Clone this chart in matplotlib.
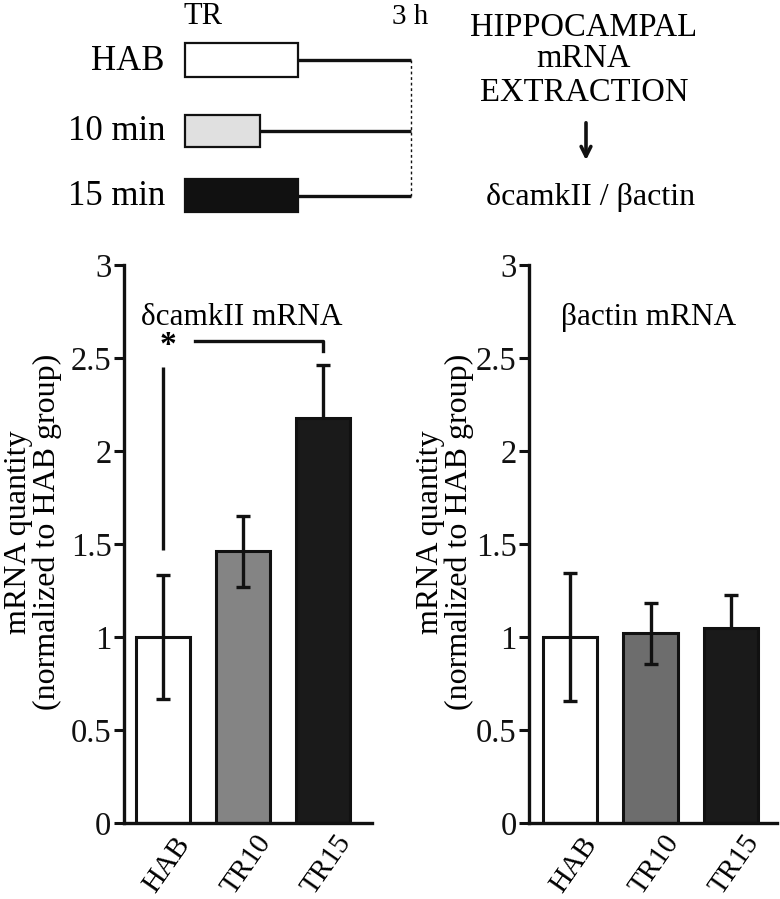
import numpy as np
import matplotlib
matplotlib.use('Agg')
import matplotlib.pyplot as plt
from matplotlib.patches import Rectangle
import matplotlib.transforms as mtransforms

plt.rcParams['font.family'] = ['Liberation Serif', 'DejaVu Serif']

# ---------------- data ----------------
groups = ['HAB', 'TR10', 'TR15']
camk_mean = [1.00, 1.46, 2.18]
camk_err = [0.335, 0.19, 0.28]
actin_mean = [1.00, 1.02, 1.05]
actin_err = [0.345, 0.165, 0.175]
yticks = [0, 0.5, 1, 1.5, 2, 2.5, 3]
ytick_labels = ['0', '0.5', '1', '1.5', '2', '2.5', '3']
left_colors = ['#ffffff', '#848484', '#1a1a1a']
right_colors = ['#ffffff', '#6d6d6d', '#1a1a1a']
ylabel = 'mRNA quantity\n(normalized to HAB group)'
titles = ['\u03b4camkII mRNA', '\u03b2actin mRNA']

protocol_labels = ['HAB', '10 min', '15 min']
protocol_minutes = [15, 10, 15]
protocol_colors = ['#ffffff', '#e0e0e0', '#111111']
extraction_lines = ['HIPPOCAMPAL', 'mRNA', 'EXTRACTION']
ratio_text = '\u03b4camkII / \u03b2actin'

# ---------------- figure ----------------
W, H = 780, 899
fig = plt.figure(figsize=(W / 100, H / 100), dpi=100)
INK = '#111111'


def px_axes(l, r, top, bottom, **kw):
    return fig.add_axes([l / W, 1 - bottom / H, (r - l) / W, (bottom - top) / H], **kw)


# overlay for protocol diagram
ax0 = px_axes(0, W, 0, H)
ax0.set_xlim(0, W)
ax0.set_ylim(H, 0)
ax0.axis('off')

row_y = [60, 131, 195.5]
row_h = [34, 32, 33]
box_x0 = 185
px_per_min = 113 / 15
end_x = 411
for lab, mins, col, y, h in zip(protocol_labels, protocol_minutes, protocol_colors, row_y, row_h):
    w = mins * px_per_min
    ax0.add_patch(Rectangle((box_x0, y - h / 2), w, h, facecolor=col, edgecolor=INK, lw=1.6))
    ax0.plot([box_x0 + w, end_x], [y, y], color=INK, lw=2.4, solid_capstyle='butt')
    ax0.text(165, y + 1, lab, ha='right', va='center', fontsize=25)
ax0.plot([end_x, end_x], [row_y[0], row_y[-1]], color=INK, lw=1.0, ls=(0, (2, 2)))
ax0.text(203, 17, 'TR', ha='center', va='center', fontsize=22)
ax0.text(410, 17, '3 h', ha='center', va='center', fontsize=21)
for txt, y in zip(extraction_lines, [28, 59, 93]):
    ax0.text(584, y, txt, ha='center', va='center', fontsize=23.5)
ax0.annotate('', xy=(586, 163), xytext=(586, 120),
             arrowprops=dict(arrowstyle='->,head_length=0.7,head_width=0.35', lw=2.6, color=INK))
ax0.text(591, 197, ratio_text, ha='center', va='center', fontsize=23)


def bar_panel(ax, means, errs, colors, title, title_x, xlim):
    x = np.arange(len(groups))
    ax.bar(x, means, width=0.675, color=colors, edgecolor=INK, linewidth=2.2, zorder=2)
    for xi, m, e, c in zip(x, means, errs, colors):
        # error bars sit behind dark bars (their lower half is hidden there)
        z = 1 if c == '#1a1a1a' else 3
        ax.errorbar([xi], [m], yerr=[e], fmt='none', ecolor=INK, elinewidth=2.4,
                    capsize=5, capthick=2.4, zorder=z)
    ax.set_xlim(*xlim)
    ax.set_ylim(0, 3)
    ax.set_yticks(yticks)
    ax.set_yticklabels(ytick_labels)
    ax.set_xticks([])
    for s in ['top', 'right']:
        ax.spines[s].set_visible(False)
    for s in ['left', 'bottom']:
        ax.spines[s].set_linewidth(2.4)
        ax.spines[s].set_color(INK)
    ax.tick_params(axis='y', direction='out', length=7, width=2.2, labelsize=23.5, pad=2, colors=INK)
    ax.patch.set_alpha(0)
    trans = mtransforms.blended_transform_factory(ax.transData, ax.transAxes)
    for xi, g in zip(x, groups):
        ax.text(xi + 0.05, -0.075, g, transform=trans, rotation=55, ha='center',
                va='center', fontsize=21)
    ax.text(title_x, 2.72, title, ha='center', va='center', fontsize=22.5)


axL = px_axes(124, 372, 265, 823)
bar_panel(axL, camk_mean, camk_err, left_colors, titles[0], 0.99, (-0.4875, 2.6125))
# significance marks
axL.plot([0, 0], [1.47, 2.45], color=INK, lw=2.4, solid_capstyle='butt')
axL.plot([0.4, 2.0, 2.0], [2.59, 2.59, 2.54], color=INK, lw=2.4)
axL.text(0.06, 2.565, '*', ha='center', va='center', fontsize=24, fontweight='bold')

axR = px_axes(529, 777, 265, 823)
bar_panel(axR, actin_mean, actin_err, right_colors, titles[1], 0.97, (-0.51, 2.57))

fig.text(33 / W, 1 - 532 / H, ylabel, rotation=90, ha='center', va='center',
         fontsize=23, linespacing=0.95, multialignment='center')
fig.text(445 / W, 1 - 532 / H, ylabel, rotation=90, ha='center', va='center',
         fontsize=23, linespacing=0.95, multialignment='center')

fig.savefig('out.png', dpi=100)
